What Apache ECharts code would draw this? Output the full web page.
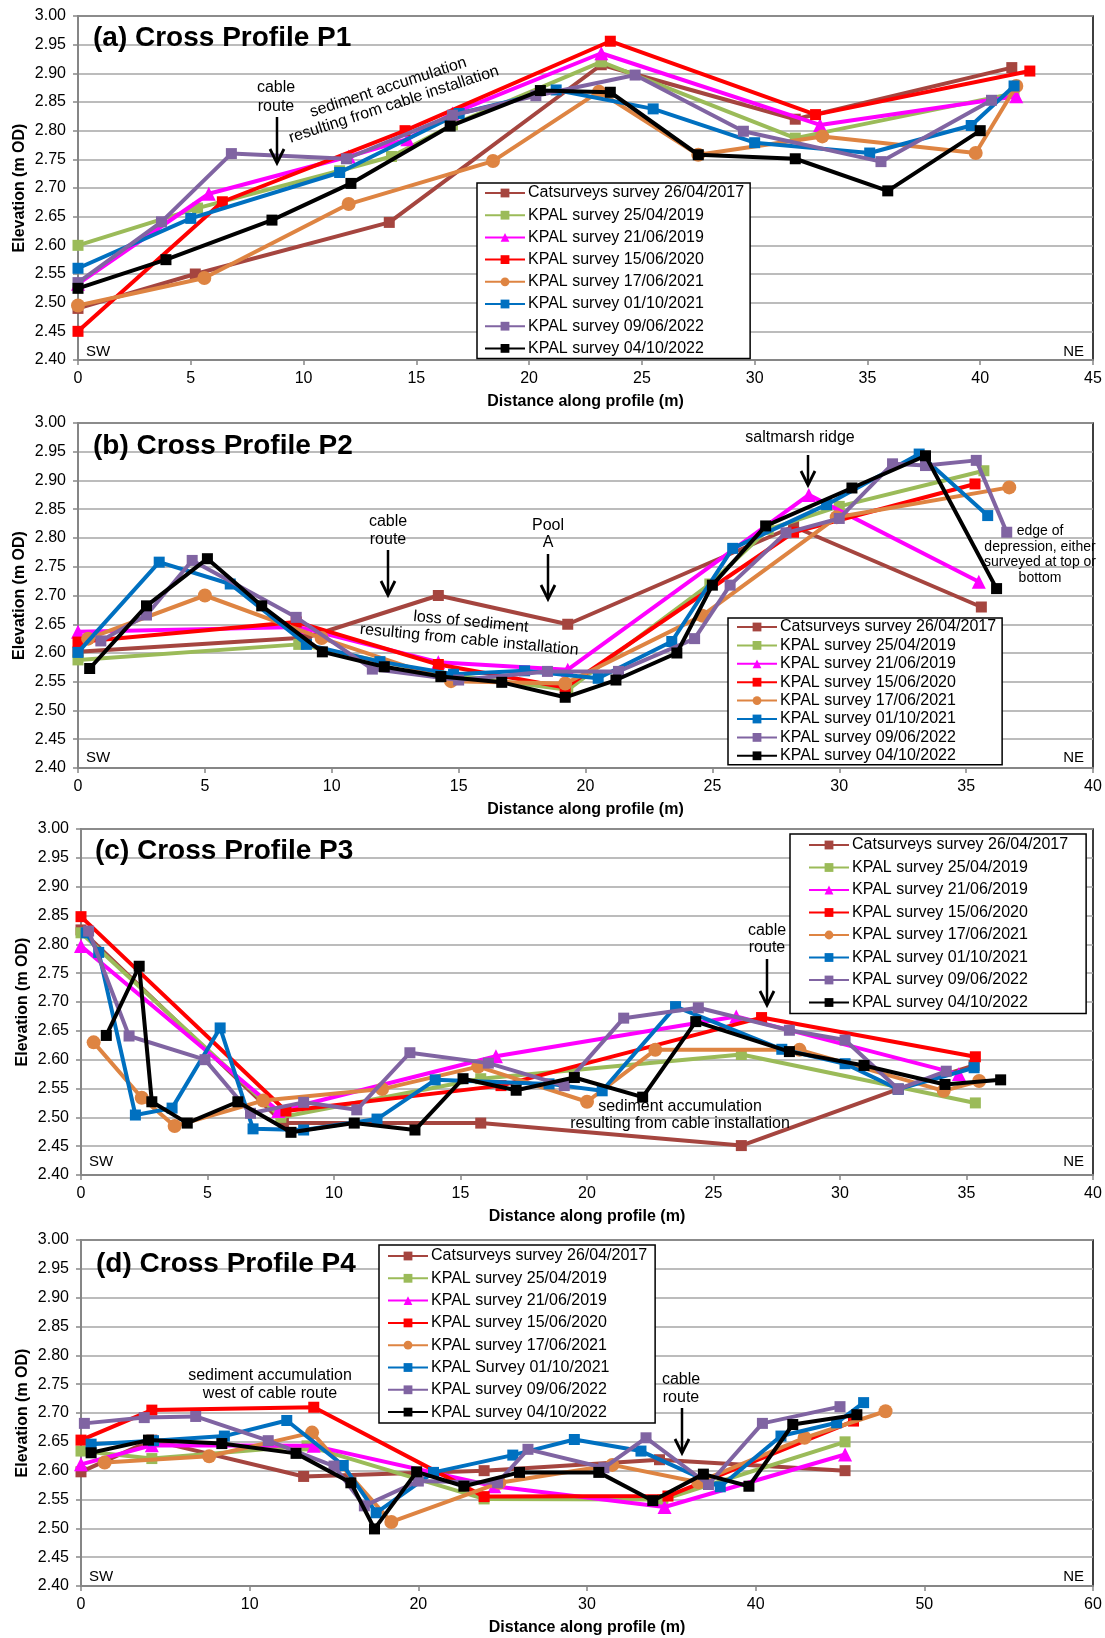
<!DOCTYPE html>
<html>
<head>
<meta charset="utf-8">
<title>Cross profiles P1–P4</title>
<script src="https://cdn.jsdelivr.net/npm/echarts@6/dist/echarts.min.js"></script>
<style>
  html, body { margin: 0; padding: 0; background: #fff; }
  #chart { width: 1105px; height: 1638px; }
</style>
</head>
<body>
<div id="chart"></div>
<script>
// ---- Survey names (legend order) ----
const surveyNames = [
  'Catsurveys survey 26/04/2017',
  'KPAL survey 25/04/2019',
  'KPAL survey 21/06/2019',
  'KPAL survey 15/06/2020',
  'KPAL survey 17/06/2021',
  'KPAL survey 01/10/2021',
  'KPAL survey 09/06/2022',
  'KPAL survey 04/10/2022'
];
const surveyNamesP4 = [
  'Catsurveys survey 26/04/2017',
  'KPAL survey 25/04/2019',
  'KPAL survey 21/06/2019',
  'KPAL survey 15/06/2020',
  'KPAL survey 17/06/2021',
  'KPAL Survey 01/10/2021',
  'KPAL survey 09/06/2022',
  'KPAL survey 04/10/2022'
];
const panelTitles = ['(a) Cross Profile P1', '(b) Cross Profile P2', '(c) Cross Profile P3', '(d) Cross Profile P4'];
const xMaxes = [45, 40, 40, 60];
const xSteps = [5, 5, 5, 10];

// ---- Profile P1: [distance (m), elevation (m OD)] ----
const p1Cats2017 = [[0,2.49],[5.2,2.55],[13.8,2.64],[23.2,2.915],[31.8,2.82],[41.4,2.91]];
const p1Kpal250419 = [[0,2.60],[5.3,2.665],[11.6,2.73],[13.9,2.755],[16.6,2.81],[23.2,2.92],[31.8,2.787],[41.5,2.865]];
const p1Kpal210619 = [[0,2.533],[5.8,2.69],[12,2.755],[14.6,2.785],[16.6,2.83],[23.2,2.935],[32.9,2.81],[41.6,2.86]];
const p1Kpal150620 = [[0,2.45],[6.4,2.676],[14.5,2.80],[23.6,2.956],[32.7,2.828],[42.2,2.904]];
const p1Kpal170621 = [[0,2.495],[5.6,2.543],[12.0,2.672],[18.4,2.747],[23.1,2.868],[27.5,2.758],[33.0,2.79],[39.8,2.761],[41.6,2.878]];
const p1Kpal011021 = [[0,2.56],[5.0,2.647],[11.6,2.727],[16.9,2.83],[21.2,2.871],[25.5,2.838],[30,2.779],[35.1,2.761],[39.6,2.809],[41.5,2.878]];
const p1Kpal090622 = [[0,2.535],[3.7,2.641],[6.8,2.76],[11.9,2.751],[16.6,2.827],[20.3,2.861],[24.7,2.897],[29.5,2.799],[35.6,2.746],[40.5,2.853]];
const p1Kpal041022 = [[0,2.525],[3.9,2.575],[8.6,2.644],[12.1,2.708],[16.5,2.808],[20.5,2.87],[23.6,2.867],[27.5,2.758],[31.8,2.751],[35.9,2.695],[40,2.80]];

// ---- Profile P2 ----
const p2Cats2017 = [[0,2.602],[9.0,2.627],[14.2,2.70],[19.3,2.65],[28.2,2.82],[35.6,2.68]];
const p2Kpal250419 = [[0,2.588],[8.7,2.615],[14.2,2.565],[19.3,2.536],[24.9,2.72],[27.2,2.815],[30,2.855],[35.7,2.917]];
const p2Kpal210619 = [[0,2.637],[8.7,2.645],[14.2,2.584],[19.3,2.571],[28.8,2.875],[35.5,2.724]];
const p2Kpal150620 = [[0,2.619],[8.6,2.654],[14.2,2.58],[19.2,2.54],[28.2,2.81],[35.35,2.894]];
const p2Kpal170621 = [[0.4,2.625],[5.0,2.70],[9.6,2.626],[14.7,2.551],[19.2,2.547],[24.6,2.665],[29.9,2.836],[36.7,2.888]];
const p2Kpal011021 = [[0,2.601],[3.2,2.758],[6.0,2.72],[9.0,2.615],[11.9,2.585],[14.8,2.563],[17.6,2.569],[20.5,2.556],[23.4,2.62],[25.8,2.782],[29.5,2.858],[33.15,2.946],[35.85,2.839]];
const p2Kpal090622 = [[0.9,2.621],[2.7,2.666],[4.5,2.761],[8.6,2.662],[11.6,2.572],[15.0,2.553],[18.5,2.568],[21.3,2.568],[24.3,2.625],[25.7,2.718],[27.9,2.809],[30,2.834],[32.1,2.929],[33.4,2.926],[35.4,2.935],[36.6,2.81]];
const p2Kpal041022 = [[0.46,2.573],[2.7,2.682],[5.1,2.764],[7.24,2.682],[9.63,2.602],[12.07,2.576],[14.3,2.559],[16.7,2.549],[19.2,2.523],[21.2,2.553],[23.6,2.60],[25.0,2.718],[27.1,2.821],[30.5,2.887],[33.4,2.943],[36.2,2.712]];

// ---- Profile P3 ----
const p3Cats2017 = [[0,2.825],[8.0,2.49],[15.8,2.49],[26.1,2.451],[32.3,2.549],[35.3,2.59]];
const p3Kpal250419 = [[0,2.82],[7.9,2.50],[15.8,2.567],[26.1,2.609],[35.35,2.525]];
const p3Kpal210619 = [[0,2.797],[7.8,2.511],[16.4,2.606],[25.9,2.675],[34.7,2.575]];
const p3Kpal150620 = [[0,2.848],[8.1,2.511],[16.6,2.555],[26.9,2.673],[35.35,2.605]];
const p3Kpal170621 = [[0.5,2.63],[2.4,2.534],[3.7,2.485],[7.2,2.529],[11.9,2.549],[15.7,2.588],[20.0,2.527],[22.7,2.617],[28.4,2.617],[34.1,2.546],[35.5,2.563]];
const p3Kpal011021 = [[0.2,2.82],[0.7,2.786],[2.15,2.504],[3.6,2.516],[5.5,2.655],[6.8,2.48],[8.8,2.478],[11.7,2.497],[14.0,2.565],[18.5,2.558],[20.6,2.546],[23.5,2.692],[27.7,2.618],[30.2,2.593],[32.3,2.549],[35.3,2.586]];
const p3Kpal090622 = [[0.3,2.823],[1.9,2.641],[4.9,2.60],[6.7,2.507],[8.8,2.526],[10.9,2.513],[13.0,2.612],[16.1,2.594],[19.1,2.555],[21.45,2.672],[24.4,2.69],[28.0,2.651],[30.2,2.634],[32.3,2.549],[34.2,2.58]];
const p3Kpal041022 = [[1.0,2.642],[2.3,2.762],[2.8,2.527],[4.2,2.49],[6.2,2.527],[8.3,2.474],[10.8,2.49],[13.2,2.478],[15.1,2.567],[17.2,2.547],[19.5,2.569],[22.2,2.535],[24.3,2.666],[28.0,2.614],[30.95,2.59],[34.15,2.557],[36.35,2.565]];

// ---- Profile P4 ----
const p4Cats2017 = [[0,2.598],[4.2,2.653],[13.2,2.59],[23.9,2.60],[34.3,2.619],[45.3,2.60]];
const p4Kpal250419 = [[0,2.634],[4.2,2.621],[13.4,2.643],[23.9,2.551],[34.5,2.55],[45.3,2.65]];
const p4Kpal210619 = [[0,2.611],[4.2,2.644],[13.8,2.643],[24.5,2.573],[34.6,2.537],[45.3,2.628]];
const p4Kpal150620 = [[0,2.653],[4.2,2.705],[13.8,2.71],[23.9,2.555],[34.8,2.556],[45.8,2.686]];
const p4Kpal170621 = [[1.4,2.614],[7.6,2.625],[13.7,2.666],[18.4,2.511],[24.8,2.579],[31.5,2.61],[36.6,2.58],[42.9,2.657],[47.7,2.703]];
const p4Kpal011021 = [[0.6,2.646],[4.3,2.652],[8.5,2.66],[12.2,2.687],[15.55,2.609],[17.5,2.527],[20.9,2.597],[25.6,2.627],[29.25,2.654],[33.2,2.634],[37.9,2.572],[41.5,2.66],[44.8,2.683],[46.4,2.718]];
const p4Kpal090622 = [[0.2,2.682],[3.75,2.692],[6.8,2.694],[11.1,2.652],[15.0,2.608],[16.8,2.539],[20,2.582],[24.7,2.579],[26.5,2.637],[31.0,2.605],[33.5,2.657],[37.2,2.576],[40.4,2.682],[45.0,2.711]];
const p4Kpal041022 = [[0.6,2.631],[4.0,2.653],[8.35,2.647],[12.75,2.63],[16.0,2.579],[17.4,2.499],[19.9,2.598],[22.7,2.573],[26.0,2.597],[30.7,2.597],[33.9,2.548],[36.9,2.594],[39.6,2.573],[42.2,2.68],[46.0,2.697]];

const profiles = [
  [p1Cats2017, p1Kpal250419, p1Kpal210619, p1Kpal150620, p1Kpal170621, p1Kpal011021, p1Kpal090622, p1Kpal041022],
  [p2Cats2017, p2Kpal250419, p2Kpal210619, p2Kpal150620, p2Kpal170621, p2Kpal011021, p2Kpal090622, p2Kpal041022],
  [p3Cats2017, p3Kpal250419, p3Kpal210619, p3Kpal150620, p3Kpal170621, p3Kpal011021, p3Kpal090622, p3Kpal041022],
  [p4Cats2017, p4Kpal250419, p4Kpal210619, p4Kpal150620, p4Kpal170621, p4Kpal011021, p4Kpal090622, p4Kpal041022]
];

// ---- Styling ----
const FONT = "'Liberation Sans', Arial, sans-serif";
const surveyStyles = [
  { color: '#A5453F', symbol: 'rect', size: 11 },
  { color: '#9BBB59', symbol: 'rect', size: 11 },
  { color: '#FF00FF', symbol: 'triangle', size: 14 },
  { color: '#FF0000', symbol: 'rect', size: 11 },
  { color: '#DE8442', symbol: 'circle', size: 14 },
  { color: '#0070C0', symbol: 'rect', size: 11 },
  { color: '#8064A2', symbol: 'rect', size: 11 },
  { color: '#000000', symbol: 'rect', size: 11 }
];
const gridBoxes = [
  { left: 78, top: 16, height: 344 },
  { left: 78, top: 423, height: 345 },
  { left: 81, top: 829, height: 346 },
  { left: 81, top: 1240, height: 346 }
];
const legendBoxes = [
  { left: 477, top: 183, padding: [2, 6, 2, 7], itemGap: 6.2 },
  { left: 728, top: 618, padding: [1, 6, 1, 8], itemGap: 2.4 },
  { left: 790, top: 834, padding: [3, 18, 3, 18], itemGap: 6.5 },
  { left: 379, top: 1245, padding: [3, 8, 3, 8], itemGap: 6.3 }
];

const grids = [], xAxes = [], yAxes = [], series = [], legends = [];
profiles.forEach((panel, p) => {
  const g = gridBoxes[p];
  grids.push({ left: g.left, right: 12, top: g.top, height: g.height, show: true,
               borderColor: '#000', borderWidth: 1.5, backgroundColor: 'transparent' });
  xAxes.push({
    gridIndex: p, type: 'value', min: 0, max: xMaxes[p], interval: xSteps[p],
    name: 'Distance along profile (m)', nameLocation: 'middle', nameGap: 34,
    nameMoveOverlap: false,
    nameTextStyle: { fontFamily: FONT, fontWeight: 'bold', fontSize: 16, color: '#000' },
    axisLine: { show: true, lineStyle: { color: '#868686', width: 2 } },
    axisTick: { show: true, length: 5, lineStyle: { color: '#868686', width: 1.5 } },
    axisLabel: { fontFamily: FONT, fontSize: 16, color: '#000', margin: 11 },
    splitLine: { show: false }
  });
  yAxes.push({
    gridIndex: p, type: 'value', min: 2.4, max: 3.0, interval: 0.05,
    name: 'Elevation (m OD)', nameLocation: 'middle', nameGap: 50,
    nameMoveOverlap: false,
    nameTextStyle: { fontFamily: FONT, fontWeight: 'bold', fontSize: 16, color: '#000' },
    axisLine: { show: true, lineStyle: { color: '#868686', width: 2 } },
    axisTick: { show: true, length: 5, lineStyle: { color: '#868686', width: 1.5 } },
    axisLabel: { fontFamily: FONT, fontSize: 16, color: '#000', margin: 12,
                 formatter: v => v.toFixed(2) },
    splitLine: { show: true, lineStyle: { color: '#A6A6A6', width: 1.5 } }
  });
  const names = p === 3 ? surveyNamesP4 : surveyNames;
  panel.forEach((data, i) => {
    const st = surveyStyles[i];
    series.push({
      type: 'line', name: names[i], xAxisIndex: p, yAxisIndex: p, data: data,
      symbol: st.symbol, symbolSize: st.size, showAllSymbol: true,
      color: st.color,
      lineStyle: { color: st.color, width: 4 },
      itemStyle: { color: st.color },
      z: 2 + i, animation: false
    });
  });
  const lb = legendBoxes[p];
  legends.push({
    data: names.slice(), orient: 'vertical', left: lb.left, top: lb.top,
    padding: lb.padding, itemGap: lb.itemGap, itemWidth: 40, itemHeight: 11,
    backgroundColor: '#fff', borderColor: '#000', borderWidth: 1.5,
    selectedMode: false, z: 20,
    textStyle: { fontFamily: FONT, fontSize: 16, color: '#000', lineHeight: 16, padding: [0, 0, 0, -2] }
  });
});

// ---- Annotations (text and arrows) ----
const graphics = [];
function label(text, x, y, opts) {
  opts = opts || {};
  graphics.push({
    type: 'text', x: x, y: y, rotation: opts.rotation || 0, z: 30,
    style: {
      text: text, fill: '#000',
      font: (opts.weight || 'normal') + ' ' + (opts.size || 16) + 'px ' + FONT,
      fontFamily: FONT, fontSize: opts.size || 16, fontWeight: opts.weight || 'normal',
      lineHeight: opts.lineHeight || 18,
      align: opts.align || 'center', verticalAlign: 'middle',
      textAlign: opts.align || 'center', textVerticalAlign: 'middle'
    }
  });
}
function arrowDown(x, yTop, yTip) {
  graphics.push({ type: 'line', z: 30, shape: { x1: x, y1: yTop, x2: x, y2: yTip - 1 },
                  style: { stroke: '#000', lineWidth: 2.5 } });
  graphics.push({ type: 'polyline', z: 30,
                  shape: { points: [[x - 7, yTip - 14], [x, yTip], [x + 7, yTip - 14]] },
                  style: { stroke: '#000', lineWidth: 2.8, fill: null } });
}

// panel titles
const titleSpots = [[93, 38], [93, 446], [95, 851], [96, 1264]];
panelTitles.forEach((t, i) => label(t, titleSpots[i][0], titleSpots[i][1], { size: 28, weight: 'bold', align: 'left' }));

// SW / NE markers
[[352], [758], [1162], [1577]].forEach((r, i) => {
  const left = gridBoxes[i].left;
  label('SW', left + 8, r[0], { align: 'left', size: 15 });
  label('NE', 1084, r[0], { align: 'right', size: 15 });
});

// (a)
label('cable\nroute', 276, 97.5, { lineHeight: 19 });
arrowDown(277, 117, 163);
label('sediment accumulation\nresulting from cable installation', 391, 96, { rotation: 18 * Math.PI / 180, lineHeight: 18 });

// (b)
label('cable\nroute', 388, 531, { lineHeight: 18 });
arrowDown(388, 550, 595);
label('Pool\nA', 548, 534.5, { lineHeight: 17 });
arrowDown(548, 554, 599);
label('loss of sediment\nresulting from cable installation', 470, 631, { rotation: -5.5 * Math.PI / 180, lineHeight: 18 });
label('saltmarsh ridge', 800, 438);
arrowDown(808, 455, 485);
label('edge of\ndepression, either\nsurveyed at top or\nbottom', 1040, 554.5, { size: 14, lineHeight: 15.7 });

// (c)
label('cable\nroute', 767, 939.5, { lineHeight: 17 });
arrowDown(767, 959, 1005);
label('sediment accumulation\nresulting from cable installation', 680, 1115.5, { lineHeight: 17 });

// (d)
label('sediment accumulation\nwest of cable route', 270, 1385, { lineHeight: 18 });
label('cable\nroute', 681, 1389, { lineHeight: 18 });
arrowDown(682, 1408, 1453);

const chart = echarts.init(document.getElementById('chart'), null, { renderer: 'canvas' });
chart.setOption({
  animation: false,
  backgroundColor: '#fff',
  textStyle: { fontFamily: FONT },
  grid: grids,
  xAxis: xAxes,
  yAxis: yAxes,
  legend: legends,
  series: series,
  graphic: { elements: graphics }
});
</script>
</body>
</html>
